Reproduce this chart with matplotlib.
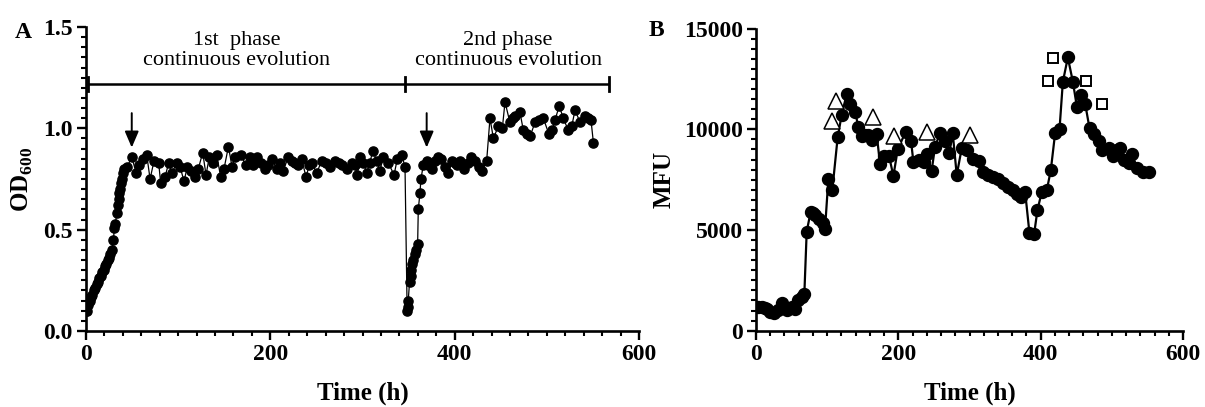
import matplotlib
matplotlib.use("Agg")
import matplotlib.pyplot as plt
from matplotlib.ticker import MultipleLocator, FormatStrFormatter

plt.rcParams['font.family'] = ['Liberation Serif', 'DejaVu Serif']
plt.rcParams['font.weight'] = 'bold'
plt.rcParams['axes.labelweight'] = 'bold'
plt.rcParams['mathtext.fontset'] = 'custom'
plt.rcParams['mathtext.rm'] = 'Liberation Serif:bold'
plt.rcParams['mathtext.bf'] = 'Liberation Serif:bold'

# ---------------- Panel A: OD600 over time ----------------
time_a = [0, 1, 2.5, 4, 5.5, 7, 8.5, 10, 11.5, 13, 14.5, 16, 17.5, 19, 20.5, 22, 23.5, 25, 26.5, 28,
          29.7, 30.8, 31.9, 33.2, 34.3, 35.4, 36.1, 36.8, 37.6, 38.7, 39.8, 41.6, 44.8,
          49.6, 54.3, 57.8, 61.5, 65.8, 69.5, 73.8, 78.8, 81.0, 85.7, 89.7, 93.3, 98.3, 102.0,
          106.3, 110.0, 114.0, 118.3, 121.8, 126.6, 130.2, 133.8, 138.2, 141.7, 146.1, 149.7,
          154.5, 158.4, 161.7, 167.8, 173.2, 177.9, 181.6, 185.2, 189.5, 194.1, 197.5, 201.5,
          206.9, 210.5, 214.0, 219.5, 223.5, 226.8, 230.5, 233.9, 238.7, 242.3, 244.9, 250.3,
          255.7, 260.5, 264.8, 270.2, 274.0, 277.4, 282.8, 288.3, 291.5, 294.4, 297.2, 301.0,
          304.5, 308.0, 311.1, 315.4, 318.9, 322.5, 328.0, 334.2, 337.8, 342.4, 346.1,
          348.4, 349.0, 349.6, 351.0, 352.4, 353.0, 354.0, 355.2, 356.4, 357.7, 359.8, 360.5,
          362.3, 363.4, 366.0, 369.6, 371.5, 375.8, 378.5, 382.2, 385.0, 389.5, 393.1, 397.5,
          400.0, 402.1, 405.7, 410.5, 414.0, 417.7, 422.0, 426.0, 430.0, 434.7, 438.3, 442.0,
          447.3, 451.7, 454.6, 459.9, 463.0, 465.5, 470.8, 474.5, 478.0, 481.8, 487.2, 491.0,
          496.2, 502.3, 506.0, 508.7, 513.5, 517.8, 523.3, 527.0, 530.6, 536.0, 541.4, 545.0,
          547.9, 550.5]
od600 = [0.10, 0.10, 0.13, 0.15, 0.17, 0.18, 0.20, 0.21, 0.23, 0.24, 0.26, 0.27, 0.29, 0.30, 0.32, 0.33, 0.35, 0.36, 0.38, 0.40,
         0.45, 0.51, 0.53, 0.58, 0.62, 0.65, 0.68, 0.70, 0.73, 0.75, 0.78, 0.80, 0.81,
         0.86, 0.78, 0.82, 0.85, 0.87, 0.75, 0.84, 0.83, 0.73, 0.76, 0.83, 0.78, 0.83, 0.81,
         0.74, 0.81, 0.79, 0.76, 0.80, 0.88, 0.77, 0.86, 0.83, 0.87, 0.76, 0.80,
         0.91, 0.81, 0.86, 0.87, 0.82, 0.86, 0.82, 0.86, 0.83, 0.80, 0.82, 0.85,
         0.80, 0.83, 0.79, 0.86, 0.84, 0.83, 0.82, 0.85, 0.76, 0.82, 0.83, 0.78,
         0.84, 0.83, 0.81, 0.84, 0.83, 0.82, 0.80, 0.83, 0.82, 0.77, 0.86, 0.83,
         0.78, 0.83, 0.89, 0.84, 0.79, 0.86, 0.83, 0.77, 0.85, 0.87, 0.81,
         0.10, 0.12, 0.15, 0.24, 0.27, 0.30, 0.33, 0.35, 0.38, 0.40, 0.43, 0.60,
         0.68, 0.75, 0.82, 0.84, 0.82, 0.80, 0.84, 0.86, 0.85, 0.81, 0.78, 0.84,
         0.83, 0.82, 0.84, 0.80, 0.83, 0.86, 0.84, 0.81, 0.79, 0.84, 1.05, 0.95,
         1.01, 1.00, 1.13, 1.03, 1.05, 1.06, 1.08, 0.99, 0.97, 0.96, 1.03, 1.04,
         1.05, 0.97, 0.99, 1.04, 1.11, 1.05, 0.99, 1.01, 1.09, 1.03, 1.06, 1.05,
         1.04, 0.93]

phase_bounds = [2, 346, 567.7]
phase_labels = ["1st  phase\ncontinuous evolution", "2nd phase\ncontinuous evolution"]
phase_label_x = [163, 458]
sampling_arrows_x = [49.6, 369.6]

# ---------------- Panel B: fluorescence over time ----------------
time_b = [3.3, 8, 12.6, 16, 19.7, 25.8, 31.4, 36.1, 43.1, 50.1, 54.8, 59.5, 64.2, 67.9,
          71.2, 76.8, 80, 82.9, 88.5, 94.6, 96.9, 101.6, 107.2, 114.7, 120.3, 127.4, 132,
          139.1, 143.8, 148.5, 152.5, 156.9, 162.5, 169.5, 174.2, 180.3, 186.9, 193, 199.1,
          210.3, 217.8, 221.1, 229, 236.5, 239.8, 246.8, 251.5, 258.5, 265.5, 271.7, 276.4,
          282, 289, 296, 304.4, 313.8, 319.5, 326.5, 333.5, 340.6, 347.6, 354.6, 361.7,
          366.4, 372, 378.1, 384.2, 390.8, 395.4, 401.5, 408.6, 414.2, 420.3, 426.4, 431.1,
          438.1, 445.2, 450.8, 456.9, 462.5, 468.6, 475.2, 481.3, 486, 495.4, 501.5, 507.1,
          511.4, 516.5, 523.5, 528, 535, 544.4, 552.8]
mfu = [1190, 1180, 1140, 1060, 940, 860, 1030, 1390, 1030, 1190, 1060, 1520, 1690, 1820,
       4920, 5910, 5850, 5750, 5530, 5330, 5030, 7520, 6990, 9600, 10710, 11750, 11260,
       10880, 10130, 9670, 9700, 9720, 9470, 9770, 8280, 8680, 8680, 7680, 9010,
       9880, 9420, 8390, 8470, 8390, 8780, 7950, 9140, 9800, 9400, 8850, 9800,
       7730, 9060, 8970, 8510, 8440, 7890, 7730, 7650, 7520, 7320, 7150, 6990,
       6790, 6620, 6900, 4840, 4820, 5990, 6900, 6990, 7980, 9830, 10000, 12360,
       13570, 12360, 11120, 11700, 11260, 10050, 9770, 9440, 8970, 9060, 8700, 8970,
       9060, 8460, 8330, 8780, 8060, 7890, 7890]

triangle_time = [107, 112, 165, 194, 240, 300]
triangle_mfu = [10400, 11400, 10600, 9650, 9850, 9700]
square_time = [410, 417, 464, 486]
square_mfu = [12400, 13520, 12400, 11250]


def style_axes(ax):
    for side in ("top", "right"):
        ax.spines[side].set_visible(False)
    for side in ("left", "bottom"):
        ax.spines[side].set_linewidth(1.9)
    ax.tick_params(which="major", length=6.5, width=1.7, direction="out",
                   labelsize=17, pad=3)
    ax.tick_params(which="minor", length=3.6, width=1.5, direction="out")


fig = plt.figure(figsize=(12.05, 4.07), dpi=100)

# Panel A
axA = fig.add_axes([0.0714, 0.1867, 0.4589, 0.747])
axA.plot(time_a, od600, "-", color="black", lw=0.9, marker="o", ms=6.6,
         mfc="black", mec="black", zorder=3)
axA.set_xlim(0, 600)
axA.set_ylim(0, 1.5)
axA.xaxis.set_major_locator(MultipleLocator(200))
axA.xaxis.set_minor_locator(MultipleLocator(20))
axA.yaxis.set_major_locator(MultipleLocator(0.5))
axA.yaxis.set_minor_locator(MultipleLocator(0.05))
axA.yaxis.set_major_formatter(FormatStrFormatter("%.1f"))
style_axes(axA)
axA.set_xlabel("Time (h)", fontsize=18, fontweight="bold", labelpad=12)
axA.set_ylabel(r"OD$_{\mathbf{600}}$", fontsize=18, fontweight="bold", labelpad=6)

# phase bracket
yb = 1.22
axA.plot([phase_bounds[0], phase_bounds[-1]], [yb, yb], color="black", lw=1.8,
         clip_on=False, solid_capstyle="butt")
for xb in phase_bounds:
    axA.plot([xb, xb], [yb - 0.035, yb + 0.035], color="black", lw=2.0, clip_on=False)
for xl, lab in zip(phase_label_x, phase_labels):
    axA.text(xl, 1.385, lab, ha="center", va="center", fontsize=16,
             fontweight="normal", linespacing=1.05)
for xa in sampling_arrows_x:
    axA.annotate("", xy=(xa, 0.905), xytext=(xa, 1.075),
                 arrowprops=dict(arrowstyle="-|>,head_length=0.7,head_width=0.3",
                                 lw=1.4, color="black", mutation_scale=14,
                                 shrinkA=0, shrinkB=0))

# Panel B
axB = fig.add_axes([0.6274, 0.1875, 0.3544, 0.742])
axB.plot(time_b, mfu, "-", color="black", lw=1.6, marker="o", ms=8.6,
         mfc="black", mec="black", zorder=3)
axB.plot(triangle_time, triangle_mfu, linestyle="none", marker="^", ms=11,
         mfc="white", mec="black", mew=1.1, zorder=4)
axB.plot(square_time, square_mfu, linestyle="none", marker="s", ms=7.5,
         mfc="white", mec="black", mew=1.4, zorder=4)
axB.set_xlim(0, 600)
axB.set_ylim(0, 15000)
axB.xaxis.set_major_locator(MultipleLocator(200))
axB.xaxis.set_minor_locator(MultipleLocator(20))
axB.yaxis.set_major_locator(MultipleLocator(5000))
axB.yaxis.set_minor_locator(MultipleLocator(500))
style_axes(axB)
axB.set_xlabel("Time (h)", fontsize=18, fontweight="bold", labelpad=12)
axB.set_ylabel("MFU", fontsize=18, fontweight="bold", labelpad=6)

fig.text(0.019, 0.921, "A", fontsize=17, fontweight="bold", ha="center", va="center")
fig.text(0.5445, 0.926, "B", fontsize=17, fontweight="bold", ha="center", va="center")

fig.savefig("out.png", dpi=100)
